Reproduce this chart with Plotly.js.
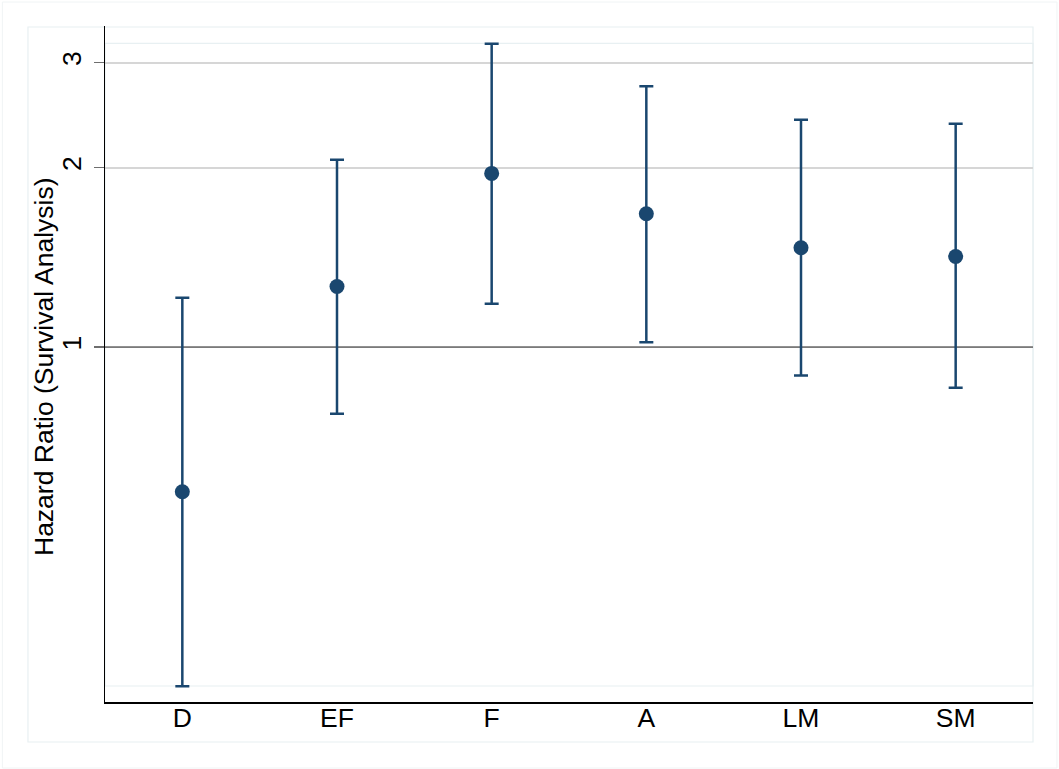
<!DOCTYPE html>
<html>
<head>
<meta charset="utf-8">
<script src="https://cdn.plot.ly/plotly-3.0.1.min.js"></script>
<style>html,body{margin:0;padding:0;background:#fff;}#chart{width:1059px;height:769px;}</style>
</head>
<body>
<div id="chart"></div>
<script>
// Data (hazard ratios with 95% CI)
const categories = ["D", "EF", "F", "A", "LM", "SM"];
const hazardRatio = [0.572, 1.264, 1.956, 1.674, 1.468, 1.419];
const ciLower = [0.270, 0.773, 1.182, 1.019, 0.896, 0.855];
const ciUpper = [1.210, 2.062, 3.227, 2.739, 2.406, 2.369];
const yTickVals = [1, 2, 3];
const yTickText = ["1", "2", "3"];
const referenceValue = 1;
const yTitle = "Hazard Ratio (Survival Analysis)";

const xPos = categories.map((c, i) => i + 1);
const navy = "#1a476f";

const refLine = {
  x: [0.5, categories.length + 0.5],
  y: [referenceValue, referenceValue],
  mode: "lines",
  line: {color: "#7a7a7a", width: 1.6},
  hoverinfo: "skip",
  showlegend: false
};

const points = {
  x: xPos,
  y: hazardRatio,
  mode: "markers",
  type: "scatter",
  marker: {color: navy, size: 15},
  error_y: {
    type: "data",
    symmetric: false,
    array: ciUpper.map((u, i) => u - hazardRatio[i]),
    arrayminus: ciLower.map((l, i) => hazardRatio[i] - l),
    color: navy,
    thickness: 2.5,
    width: 7
  },
  showlegend: false
};

const font = {family: "Liberation Sans, Arial, sans-serif", color: "#000"};
const fs = 26.5;

const layout = {
  width: 1059,
  height: 769,
  margin: {l: 105, r: 26, t: 26, b: 67},
  paper_bgcolor: "#fff",
  plot_bgcolor: "#fff",
  showlegend: false,
  xaxis: {
    range: [0.5, categories.length + 0.5],
    tickmode: "array",
    tickvals: xPos,
    ticktext: categories,
    ticks: "",
    ticklabelstandoff: -8,
    showgrid: false,
    zeroline: false,
    showline: true,
    linecolor: "#000",
    linewidth: 1.5,
    tickfont: Object.assign({size: fs}, font),
    fixedrange: true
  },
  yaxis: {
    type: "log",
    range: [-0.5952, 0.5386],
    tickmode: "array",
    tickvals: yTickVals,
    ticktext: yTickText,
    tickangle: -90,
    ticks: "outside",
    ticklen: 10,
    tickwidth: 1.5,
    tickcolor: "#6e6e6e",
    ticklabelstandoff: 2,
    showgrid: true,
    gridcolor: "#d6d6d6",
    gridwidth: 1.8,
    zeroline: false,
    showline: true,
    linecolor: "#000",
    linewidth: 1.5,
    tickfont: Object.assign({size: fs}, font),
    fixedrange: true
  },
  annotations: [
    {text: yTitle, xref: "paper", yref: "paper", x: -0.0657, y: 0.4956,
     xanchor: "center", yanchor: "middle", textangle: -90, showarrow: false,
     font: Object.assign({size: fs}, font)}
  ],
  shapes: [
    {type: "rect", xref: "paper", yref: "paper", x0: 0, x1: 1, y0: 0.0237, y1: 0.9744,
     line: {color: "#e8f0f2", width: 1.2}, layer: "below"},
    {type: "rect", xref: "paper", yref: "paper", x0: -0.083, x1: 1, y0: -0.0592, y1: 0.9985,
     line: {color: "#e8f0f2", width: 1.2}, layer: "below"},
    {type: "rect", xref: "paper", yref: "paper", x0: -0.1106, x1: 1.0258, y0: -0.0977, y1: 1.0355,
     line: {color: "#f0f4f5", width: 1}, layer: "below"}
  ]
};

Plotly.newPlot("chart", [refLine, points], layout, {displayModeBar: false, staticPlot: true});
</script>
</body>
</html>
